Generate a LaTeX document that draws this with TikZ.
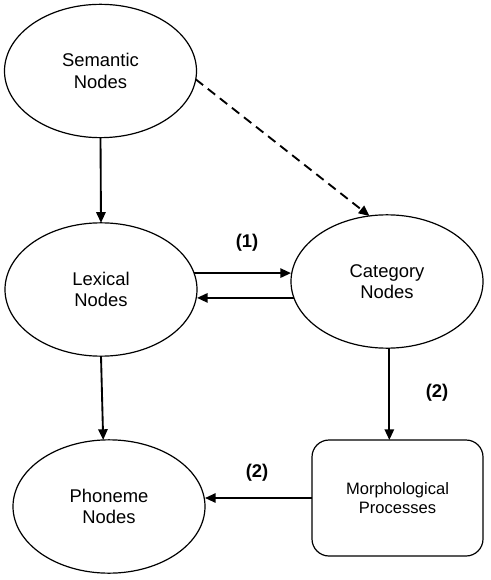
\documentclass[tikz,border=0pt]{standalone}
\usepackage{fontspec}
\setmainfont{Liberation Sans}
\usepackage{tikz}
\usetikzlibrary{arrows.meta,shapes,positioning}
\tikzstyle{unit} = [ellipse, draw, line width=0.9pt, minimum width=144pt, minimum height=100pt, inner sep=0pt, outer sep=0pt, align=center, font=\fontsize{13.8}{16}\selectfont]
\tikzstyle{procbox} = [rectangle, rounded corners=12.75pt, draw, line width=0.9pt, minimum width=128.25pt, minimum height=87pt, outer sep=0pt, align=center, font=\fontsize{12.4}{14.2}\selectfont]
\tikzstyle{arrow} = [line width=1.4pt, -{Triangle[length=8pt,width=7pt]}]
\tikzstyle{steplabel} = [font=\fontsize{13.8}{16}\selectfont\bfseries]

\begin{document}
\begin{tikzpicture}[x=0.75pt, y=-0.75pt]
    \useasboundingbox (0,0) rectangle (490,580);

    % Nodes
    \node[unit] (sem) at (100.5,71) {Semantic\\Nodes};
    \node[unit] (lex) at (101,289.5) {Lexical\\Nodes};
    \node[unit] (cat) at (387,281.5) {Category\\Nodes};
    \node[unit] (phon) at (109,506.5) {Phoneme\\Nodes};
    \node[procbox] (morph) at (397.5,498) {Morphological\\Processes};

    % Arrows
    \draw[arrow] (sem.south) -- (lex.north);
    \draw[arrow, dash pattern=on 7pt off 4.5pt] (sem.-5) -- (cat.105);
    \draw[arrow] (lex.10) -- (lex.10 -| cat.west);
    \draw[arrow] (cat.190) -- (cat.190 -| lex.east);
    \draw[arrow] (lex.south) -- (phon.95);
    \draw[arrow] (cat.272) -- (cat.272 |- morph.north);
    \draw[arrow] (morph.west) -- (morph.west -| phon.east);

    % Labels
    \node[steplabel] (one) at (247,243) {(1)};
    \node[steplabel] (twoa) at (437,393) {(2)};
    \node[steplabel] (twob) at (257,473) {(2)};
\end{tikzpicture}
\end{document}
